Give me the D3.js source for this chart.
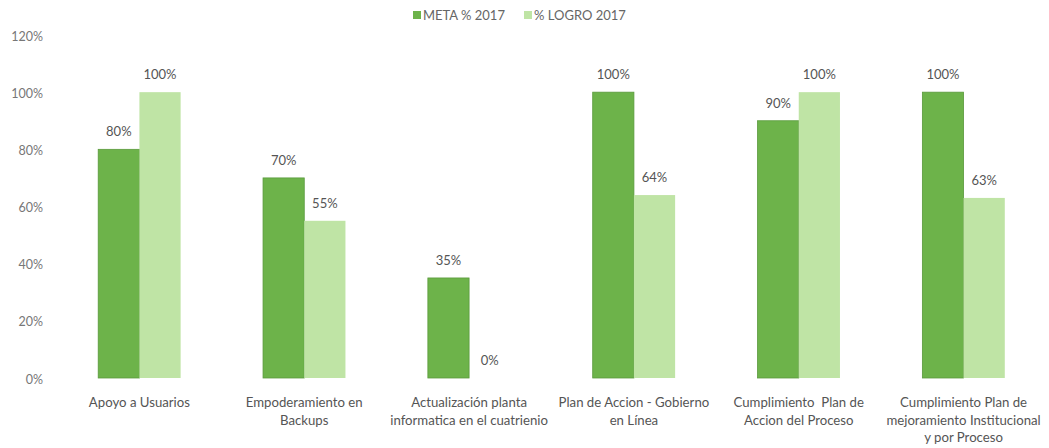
<!DOCTYPE html>
<html>
<head>
<meta charset="utf-8">
<script src="https://cdn.jsdelivr.net/npm/d3@7"></script>
<style>
  html, body { margin: 0; padding: 0; background: #fff; }
  svg { display: block; }
  text { font-family: Lato, "Open Sans", sans-serif; white-space: pre; }
</style>
</head>
<body>
<svg id="chart" width="1049" height="448"></svg>
<script>
const categories = [
  ["Apoyo a Usuarios"],
  ["Empoderamiento en", "Backups"],
  ["Actualización planta", "informatica en el cuatrienio"],
  ["Plan de Accion - Gobierno", "en Línea"],
  ["Cumplimiento  Plan de", "Accion del Proceso"],
  ["Cumplimiento Plan de", "mejoramiento Institucional", "y por Proceso"]
];
const seriesNames = ["META % 2017", "% LOGRO 2017"];
const meta = [80, 70, 35, 100, 90, 100];
const logro = [100, 55, 0, 64, 100, 63];
const yTicks = [0, 20, 40, 60, 80, 100, 120];
const colors = ["#6db34a", "#bfe4a5"];

const svg = d3.select("#chart");
const catKeys = categories.map((c, i) => i);

const x0 = d3.scaleBand().domain(catKeys).range([57, 1046]).padding(0);
const x1 = d3.scaleBand().domain(seriesNames).range([0, x0.bandwidth()]).paddingInner(0).paddingOuter(1);
const y = d3.scaleLinear().domain([0, 120]).range([378, 35]);

// Y axis
const yAxis = d3.axisLeft(y).tickValues(yTicks).tickFormat(d => d + "%").tickSize(0).tickPadding(0);
const yg = svg.append("g").attr("transform", "translate(43,0)").call(yAxis);
yg.select(".domain").remove();
yg.selectAll("text").attr("fill", "#777").attr("font-size", 12.5).attr("dy", "0.4em");

// Bars
const data = catKeys.map(i => [
  { s: seriesNames[0], v: meta[i], c: colors[0] },
  { s: seriesNames[1], v: logro[i], c: colors[1] }
]);

const groups = svg.append("g").selectAll("g").data(data).join("g")
  .attr("transform", (d, i) => `translate(${x0(i)},0)`);

groups.selectAll("rect").data(d => d).join("rect")
  .attr("x", d => x1(d.s))
  .attr("width", x1.bandwidth())
  .attr("y", d => y(d.v))
  .attr("height", d => y(0) - y(d.v))
  .attr("fill", d => d.c)
  .attr("stroke", (d, j) => j === 0 ? "#5a9a3c" : "none")
  .attr("stroke-width", 0.8);

groups.selectAll("text.val").data(d => d).join("text")
  .attr("class", "val")
  .attr("x", d => x1(d.s) + x1.bandwidth() / 2)
  .attr("y", d => y(d.v) - 13)
  .attr("text-anchor", "middle")
  .attr("font-size", 13)
  .attr("fill", "#555")
  .text(d => d.v + "%");

// Category labels
const xg = svg.append("g");
categories.forEach((lines, i) => {
  const cx = x0(i) + x0.bandwidth() / 2;
  const t = xg.append("text")
    .attr("x", cx)
    .attr("y", 407)
    .attr("text-anchor", "middle")
    .attr("font-size", 13.2)
    .attr("fill", "#555");
  lines.forEach((ln, k) => {
    t.append("tspan").attr("x", cx).attr("dy", k === 0 ? 0 : 17.5).text(ln);
  });
});

// Legend
const legendItems = [
  { name: seriesNames[0], c: colors[0], x: 413 },
  { name: seriesNames[1], c: colors[1], x: 524 }
];
const lg = svg.append("g");
legendItems.forEach(it => {
  lg.append("rect").attr("x", it.x).attr("y", 11).attr("width", 8).attr("height", 8).attr("fill", it.c);
  lg.append("text").attr("x", it.x + 10).attr("y", 20).attr("font-size", 13).attr("fill", "#666").text(it.name);
});
</script>
</body>
</html>
